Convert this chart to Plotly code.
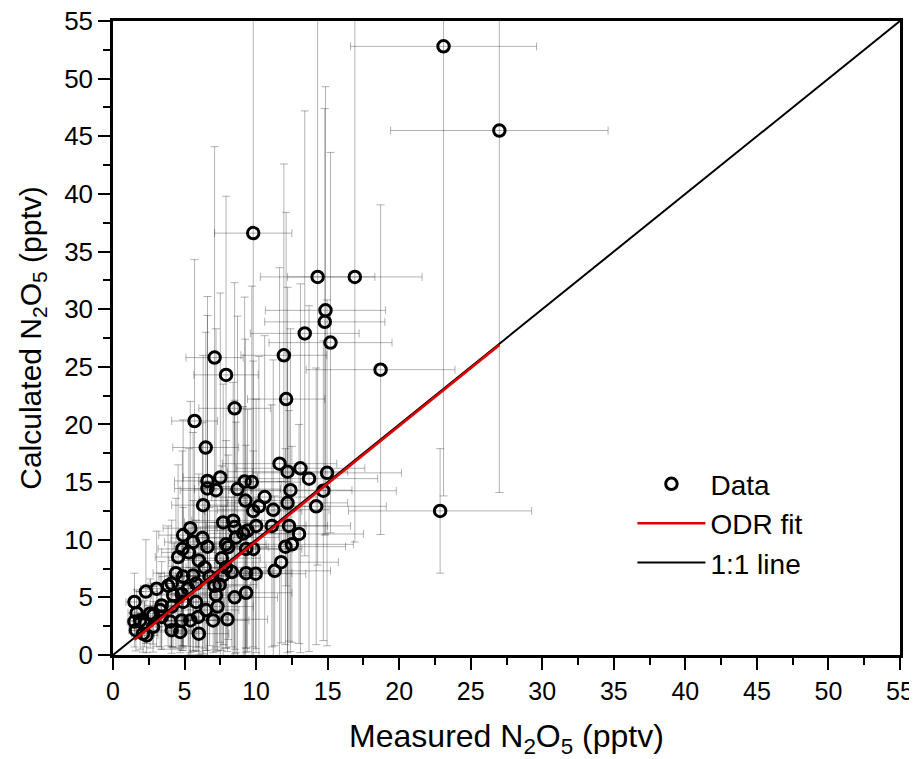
import plotly.graph_objects as go

# Measured N2O5 (pptv)
measured = [1.5, 1.65, 1.5, 1.6, 2.2, 2.35, 2.8, 2.8, 3.4, 4.0, 4.1, 4.7, 4.8, 4.1, 3.4, 4.9, 4.8, 5.8, 5.95, 6.5,
            6.0, 5.4, 5.25, 5.8, 7.1, 6.75, 6.0, 4.2, 3.3, 2.6, 2.1, 1.9, 7.7, 8.05, 7.45, 4.4, 4.9, 5.6, 4.1, 3.85,
            3.05, 2.3, 4.55, 5.3, 4.85, 4.9, 5.4, 5.6, 6.25, 6.6, 6.4, 7.2, 7.3, 7.0, 8.0, 8.5, 9.3, 7.6, 7.9, 8.3,
            7.9, 8.6, 9.1, 9.3, 9.8, 9.3, 9.97, 11.3, 11.75, 12.05, 12.5, 13.0, 12.3, 11.1, 10.0, 9.4, 8.4, 7.7, 8.5, 6.3,
            6.6, 7.2, 6.6, 7.5, 8.7, 9.2, 9.7, 9.25, 9.8, 10.2, 10.6, 11.2, 12.2, 12.4, 14.2, 14.7, 14.96, 13.7, 13.1, 12.2,
            11.64, 6.48, 5.7, 8.5, 12.1, 18.7, 7.9, 7.1, 11.94, 15.2, 13.4, 14.8, 14.85, 14.3, 16.9, 9.8, 23.1, 27.0, 22.86]
# Calculated N2O5 (pptv)
calculated = [4.6, 3.65, 2.9, 2.15, 2.7, 1.7, 2.45, 3.45, 3.3, 2.9, 2.15, 2.0, 3.0, 4.2, 4.3, 4.6, 5.3, 4.6, 3.3, 3.9,
              1.85, 3.0, 5.75, 6.2, 6.0, 6.8, 8.2, 5.2, 3.9, 3.6, 1.85, 3.0, 6.9, 9.35, 6.1, 7.1, 6.8, 6.9, 6.2, 6.0,
              5.75, 5.5, 8.5, 8.9, 9.2, 10.4, 11.0, 9.8, 10.15, 9.4, 7.6, 5.2, 4.2, 3.0, 3.1, 5.0, 5.4, 8.4, 7.6, 7.2,
              9.6, 10.2, 10.55, 9.2, 9.2, 7.1, 7.05, 7.3, 8.05, 9.4, 9.6, 10.5, 11.2, 11.2, 11.2, 10.8, 11.65, 11.5, 11.1, 13.0,
              14.45, 14.3, 15.1, 15.4, 14.4, 15.05, 15.0, 13.4, 12.5, 12.9, 13.7, 12.6, 13.2, 14.3, 12.9, 14.25, 15.8, 15.3, 16.2, 15.9,
              16.6, 18.0, 20.3, 21.4, 22.2, 24.75, 24.3, 25.8, 26.0, 27.1, 27.9, 28.9, 29.9, 32.8, 32.8, 36.6, 52.8, 45.5, 12.5]
# Uncertainty of measured values
measured_err = [0.6, 0.6, 0.5, 0.5, 0.8, 0.8, 1.0, 1.0, 1.2, 1.4, 1.4, 1.6, 1.7, 1.5, 1.2, 1.7, 1.7, 2.0, 2.1, 2.3,
                2.1, 1.9, 1.8, 2.0, 2.5, 2.4, 2.1, 1.5, 1.2, 0.9, 0.8, 0.7, 2.7, 2.8, 2.6, 1.6, 1.7, 2.0, 1.5, 1.4,
                1.1, 0.8, 1.6, 1.9, 1.7, 1.7, 1.9, 2.0, 2.2, 2.3, 2.2, 2.5, 2.5, 2.5, 2.8, 3.0, 3.2, 2.7, 2.8, 2.9,
                2.8, 3.0, 3.2, 3.2, 3.4, 3.2, 3.5, 3.9, 4.0, 4.2, 4.3, 4.5, 4.3, 3.9, 3.5, 3.3, 2.9, 2.7, 3.0, 2.2,
                2.3, 2.5, 2.3, 2.6, 3.0, 3.2, 3.4, 3.2, 3.4, 3.6, 3.7, 3.9, 4.2, 4.3, 4.9, 5.1, 5.2, 4.8, 4.5, 4.2,
                4.0, 2.3, 1.6, 2.5, 2.7, 5.2, 2.25, 2.0, 3.0, 4.3, 3.8, 4.2, 4.2, 4.0, 4.7, 2.7, 6.5, 7.6, 6.4]
# Uncertainty of calculated values
calculated_err = [2.5, 2.0, 2.2, 1.8, 2.0, 1.5, 2.2, 2.5, 2.8, 2.4, 2.0, 1.8, 2.6, 3.5, 3.8, 4.0, 4.5, 4.2, 3.0, 3.5,
                  1.8, 2.8, 5.0, 5.5, 5.5, 6.0, 7.5, 4.5, 3.2, 3.0, 1.6, 2.5, 6.0, 8.0, 5.0, 6.5, 6.0, 6.5, 5.5, 5.2,
                  5.0, 4.5, 8.0, 9.0, 8.5, 10.0, 11.0, 9.5, 10.0, 9.0, 7.0, 4.5, 3.8, 2.8, 2.8, 4.5, 4.8, 8.0, 7.0, 6.5,
                  9.0, 10.0, 11.0, 9.0, 8.5, 6.5, 6.5, 6.5, 7.0, 8.5, 8.5, 9.5, 10.0, 10.5, 11.0, 10.5, 12.0, 12.0, 11.0, 13.0,
                  15.0, 14.0, 16.0, 16.0, 15.0, 16.0, 17.0, 14.0, 13.0, 13.0, 14.0, 13.0, 13.0, 14.0, 12.0, 13.0, 15.0, 15.0, 16.0, 16.0,
                  17.0, 10.0, 14.0, 10.9, 16.2, 14.3, 15.5, 18.3, 16.6, 16.5, 19.3, 18.5, 19.4, 25.0, 23.0, 22.0, 39.0, 31.4, 5.4]

# ODR fit parameters and 1:1 line range
odr_slope = 1.003
odr_intercept = -0.18
one_to_one = [0, 55]

x_ticks = [0, 5, 10, 15, 20, 25, 30, 35, 40, 45, 50, 55]
y_ticks = [0, 5, 10, 15, 20, 25, 30, 35, 40, 45, 50, 55]

fit_x = [min(measured), max(measured)]
fit_y = [odr_slope * v + odr_intercept for v in fit_x]

ERR_COLOR = "rgba(0,0,0,0.3)"

fig = go.Figure()
fig.add_trace(go.Scatter(
    x=measured, y=calculated, mode="markers", name="Data", legendrank=1,
    marker=dict(symbol="circle-open", size=11.5, color="black", line=dict(width=3, color="black")),
    error_x=dict(type="data", array=measured_err, visible=True, color=ERR_COLOR, thickness=1, width=4),
    error_y=dict(type="data", array=calculated_err, visible=True, color=ERR_COLOR, thickness=1, width=4),
))
fig.add_trace(go.Scatter(
    x=one_to_one, y=one_to_one, mode="lines", name="1:1 line", legendrank=3,
    line=dict(color="black", width=2),
))
fig.add_trace(go.Scatter(
    x=fit_x, y=fit_y, mode="lines", name="ODR fit", legendrank=2,
    line=dict(color="#e00000", width=2.6),
))

axis_common = dict(
    range=[0, 55], showgrid=False, zeroline=False,
    showline=True, linecolor="black", linewidth=2.5, mirror=True,
    ticks="outside", ticklen=12, tickwidth=2, tickcolor="black",
    ticklabeloverflow="allow", automargin=False,
    minor=dict(ticks="outside", ticklen=7, tickwidth=2, tickcolor="black", dtick=2.5),
)

# the page body adds an 8px offset at the top-left; sizes chosen so the plot area sits where the reference has it
fig.update_layout(
    width=909, height=751,
    paper_bgcolor="white", plot_bgcolor="white",
    margin=dict(l=105, r=17, t=12.5, b=104),
    font=dict(family="Liberation Sans, Arial, sans-serif", color="black"),
    xaxis=dict(
        **axis_common,
        tickvals=x_ticks,
        tickfont=dict(size=25),
        title=dict(text="Measured N<sub>2</sub>O<sub>5</sub> (pptv)", standoff=26, font=dict(size=32)),
    ),
    yaxis=dict(
        **axis_common,
        tickvals=y_ticks,
        tickfont=dict(size=26),
        title=dict(text="Calculated N<sub>2</sub>O<sub>5</sub> (pptv)", standoff=14, font=dict(size=30)),
    ),
    showlegend=True,
    legend=dict(
        x=0.66, y=0.309, xanchor="left", yanchor="top",
        bgcolor="rgba(0,0,0,0)", font=dict(size=28), itemwidth=68,
        traceorder="normal",
    ),
)

fig.write_html("out.html")
